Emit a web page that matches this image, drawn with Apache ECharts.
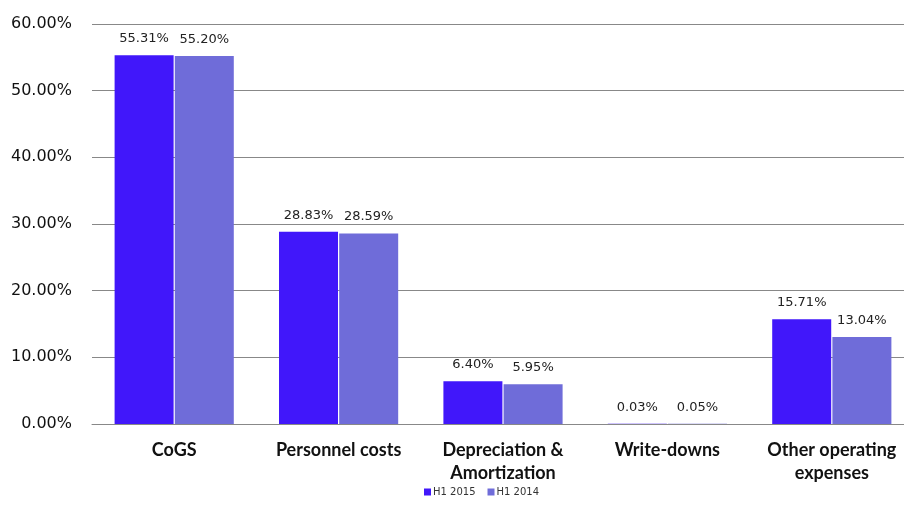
<!DOCTYPE html>
<html>
<head>
<meta charset="utf-8">
<script src="https://cdn.jsdelivr.net/npm/echarts@6/dist/echarts.min.js"></script>
<style>html,body{margin:0;padding:0;background:#fff;overflow:hidden;}#c{width:914px;height:505px;}</style>
</head>
<body>
<div id="c"></div>
<script>
const categories = ['CoGS', 'Personnel costs', 'Depreciation &\nAmortization', 'Write-downs', 'Other operating\nexpenses'];
const seriesNames = ['H1 2015', 'H1 2014'];
const h1_2015 = [55.31, 28.83, 6.40, 0.03, 15.71];
const h1_2014 = [55.20, 28.59, 5.95, 0.05, 13.04];
const yTicks = [0, 10, 20, 30, 40, 50, 60];

const colors = ['#4117FA', '#6F6CD9'];
const chart = echarts.init(document.getElementById('c'));
const labelCfg = {
  show: true, position: 'top', distance: 10,
  fontFamily: 'DejaVu Sans', fontSize: 13, color: '#222',
  formatter: p => p.value.toFixed(2) + '%'
};
chart.setOption({
  animation: false,
  grid: { left: 92, top: 24, bottom: 81, right: 0, containLabel: false },
  legend: {
    left: 419, bottom: 3, itemWidth: 7, itemHeight: 7, itemGap: 12,
    icon: 'rect',
    textStyle: { fontFamily: 'DejaVu Sans', fontSize: 10, color: '#333', padding: [0, 0, 0, -3] },
    data: seriesNames
  },
  xAxis: {
    type: 'category', data: categories,
    axisLine: { lineStyle: { color: '#888', width: 1 } },
    axisTick: { show: false },
    axisLabel: {
      fontFamily: 'Lato', fontWeight: 'bold', fontSize: 18, color: '#111',
      lineHeight: 23, margin: 15, interval: 0
    }
  },
  yAxis: {
    type: 'value', min: yTicks[0], max: yTicks[yTicks.length - 1], interval: 10,
    axisLine: { show: false }, axisTick: { show: false },
    splitLine: { lineStyle: { color: '#888', width: 1 } },
    axisLabel: {
      fontFamily: 'DejaVu Sans', fontSize: 16, color: '#111', margin: 20,
      formatter: v => v.toFixed(2) + '%'
    }
  },
  series: [
    { name: seriesNames[0], type: 'bar', data: h1_2015, itemStyle: { color: colors[0] },
      barGap: '2%', barCategoryGap: '27.5%', label: labelCfg },
    { name: seriesNames[1], type: 'bar', data: h1_2014, itemStyle: { color: colors[1] },
      barGap: '2%', barCategoryGap: '27.5%', label: labelCfg }
  ]
});
</script>
</body>
</html>
